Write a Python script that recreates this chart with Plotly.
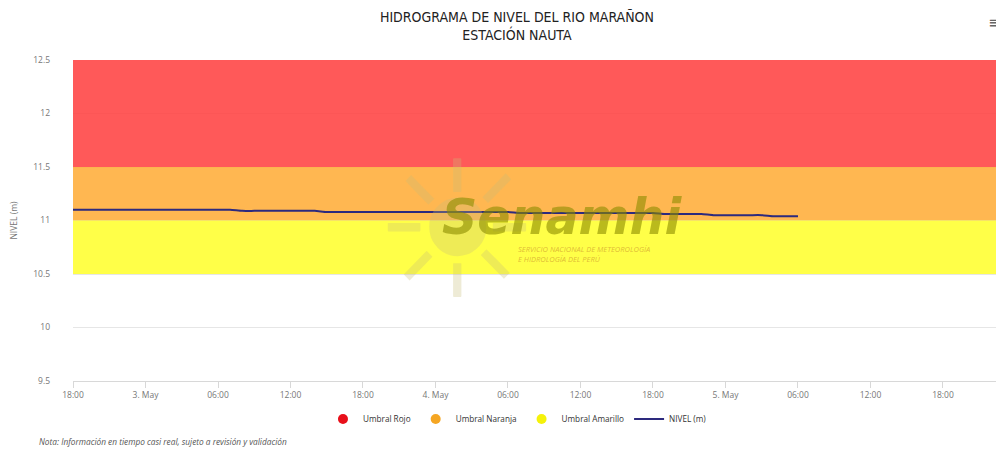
import plotly.graph_objects as go
import pandas as pd

# ---- data ----
band_names = ["Umbral Rojo", "Umbral Naranja", "Umbral Amarillo"]
band_low = [11.5, 11.0, 10.5]
band_high = [12.5, 11.5, 11.0]
band_colors = ["rgba(255,60,60,0.85)", "rgba(255,170,50,0.85)", "rgba(255,255,40,0.85)"]
legend_colors = ["#e8101a", "#f5a623", "#f5f20a"]

level_times = pd.date_range("2024-05-02 18:00", "2024-05-05 06:00", freq="h")
level_values = (
    [11.10] * 14 +   # 02 May 18:00 - 03 May 07:00
    [11.09] * 7 +    # 08:00 - 14:00
    [11.08] * 16 +   # 15:00 - 04 May 06:00
    [11.07] * 12 +   # 07:00 - 18:00
    [11.06] * 4 +    # 19:00 - 22:00
    [11.05] * 5 +    # 23:00 - 05 May 03:00
    [11.04] * 3      # 04:00 - 06:00
)

x_start = pd.Timestamp("2024-05-02 18:00")
x_end = pd.Timestamp("2024-05-05 23:03")
tick_times = pd.date_range("2024-05-02 18:00", "2024-05-05 18:00", freq="6h")
tick_labels = ["18:00", "3. May", "06:00", "12:00", "18:00", "4. May", "06:00",
               "12:00", "18:00", "5. May", "06:00", "12:00", "18:00"]
y_ticks = [9.5, 10, 10.5, 11, 11.5, 12, 12.5]
y_labels = ["9.5", "10", "10.5", "11", "11.5", "12", "12.5"]

fig = go.Figure()

# bands (drawn from thresholds)
for name, lo, hi, col in zip(band_names, band_low, band_high, band_colors):
    fig.add_trace(go.Scatter(x=[x_start, x_end], y=[lo, lo], mode="lines",
                             line=dict(width=0), showlegend=False, hoverinfo="skip"))
    fig.add_trace(go.Scatter(x=[x_start, x_end], y=[hi, hi], mode="lines",
                             line=dict(width=0), fill="tonexty", fillcolor=col,
                             showlegend=False, name=name))

# legend entries
for name, col in zip(band_names, legend_colors):
    fig.add_trace(go.Scatter(x=[None], y=[None], mode="markers", name=name,
                             marker=dict(color=col, size=10, symbol="circle")))

fig.add_trace(go.Scatter(x=level_times, y=level_values, mode="lines", name="NIVEL (m)",
                         line=dict(color="#2d2a7e", width=2, shape="spline", smoothing=0.6)))

font_fam = "Open Sans, DejaVu Sans, sans-serif"

# page body has an 8px margin, so the figure is sized to fit the 1004x449 window
fig.update_layout(
    width=996, height=441,
    margin=dict(l=65, r=0, t=52, b=68, autoexpand=False),
    paper_bgcolor="white", plot_bgcolor="white",
    font=dict(family=font_fam, color="#666666", size=9),
    title=dict(text="HIDROGRAMA DE NIVEL DEL RIO MARAÑON<br>ESTACIÓN NAUTA",
               x=0.511, xanchor="center", y=0.969, yanchor="middle",
               font=dict(family="DejaVu Sans Condensed, Open Sans, sans-serif", size=14, color="#222222")),
    legend=dict(orientation="h", x=0.2685, xanchor="left", yref="container", y=0.068, yanchor="middle",
                font=dict(size=8.2, color="#333333"), itemwidth=30, traceorder="normal",
                bgcolor="rgba(0,0,0,0)"),
    showlegend=True,
    xaxis=dict(range=[x_start, x_end], tickvals=tick_times, ticktext=tick_labels,
               showgrid=False, showline=True, linecolor="#d8d8d8", linewidth=1,
               ticks="outside", ticklen=6, tickcolor="#d8d8d8", automargin=False,
               tickfont=dict(size=8.5, color="#777777"), zeroline=False),
    yaxis=dict(range=[9.5, 12.5], tickvals=y_ticks, ticktext=y_labels, automargin=False,
               showgrid=True, gridcolor="#e6e6e6", zeroline=False,
               tickfont=dict(size=8.5, color="#777777"), ticks="", ticklabelstandoff=22,
               title=dict(text="NIVEL (m)", font=dict(size=8.5, color="#777777"), standoff=14)),
)

# watermark (Senamhi)
fig.add_annotation(text="☀", xref="paper", yref="paper", x=0.4125, y=0.49, xanchor="center",
                   yanchor="middle", showarrow=False,
                   font=dict(size=190, color="rgba(200,190,120,0.3)"))
fig.add_annotation(text="<b><i>Senamhi</i></b>", xref="paper", yref="paper",
                   x=0.525, y=0.508, xanchor="center", yanchor="middle", showarrow=False,
                   font=dict(family="DejaVu Sans, sans-serif", size=49, color="rgba(140,140,0,0.6)"))
fig.add_annotation(text="<i>SERVICIO NACIONAL DE METEOROLOGÍA<br>E HIDROLOGÍA DEL PERÚ</i>",
                   xref="paper", yref="paper", x=0.476, y=0.433, xanchor="left", yanchor="top",
                   showarrow=False, align="left",
                   font=dict(size=7.5, color="rgba(200,140,40,0.6)"))

# note
fig.add_annotation(text="<i>Nota: Información en tiempo casi real, sujeto a revisión y validación</i>",
                   xref="paper", yref="paper", x=-0.0387, y=-0.187, xanchor="left", yanchor="middle",
                   showarrow=False, font=dict(size=8.3, color="#555555"))
# menu icon
fig.add_annotation(text="≡", xref="paper", yref="paper", x=0.999, y=1.118, xanchor="right",
                   yanchor="middle", showarrow=False, font=dict(size=16, color="#666666"))

fig.write_html("out.html")
